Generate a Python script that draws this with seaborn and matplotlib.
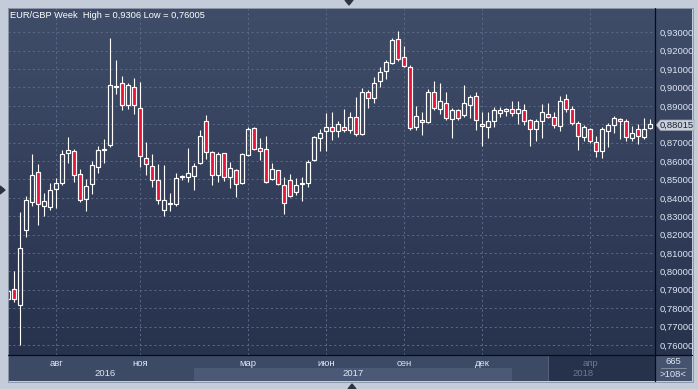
import numpy as np
import matplotlib
matplotlib.use("Agg")
import matplotlib.pyplot as plt
import seaborn as sns
from matplotlib.patches import Rectangle, Polygon

# ---------------- data (weekly EUR/GBP candles) ----------------
opens = [0.7850, 0.7904, 0.7815, 0.8225, 0.8378, 0.8542, 0.8355, 0.8351, 0.8449, 0.8480,
         0.8644, 0.8656, 0.8531, 0.8393, 0.8476, 0.8569, 0.8660, 0.8687, 0.9002, 0.9022,
         0.8907, 0.9005, 0.8891, 0.8618, 0.8575, 0.8498, 0.8335, 0.8369, 0.8364, 0.8513,
         0.8513, 0.8518, 0.8591, 0.8818, 0.8649, 0.8524, 0.8642, 0.8513, 0.8551, 0.8480,
         0.8633, 0.8780, 0.8671, 0.8665, 0.8500, 0.8551, 0.8469, 0.8496, 0.8429, 0.8474,
         0.8480, 0.8605, 0.8725, 0.8762, 0.8785, 0.8765, 0.8787, 0.8771, 0.8842, 0.8747,
         0.8973, 0.8942, 0.9033, 0.9087, 0.9131, 0.9262, 0.9164, 0.9109, 0.8787, 0.8824,
         0.8813, 0.8973, 0.8885, 0.8918, 0.8831, 0.8875, 0.8849, 0.8902, 0.8951, 0.8804,
         0.8787, 0.8815, 0.8860, 0.8871, 0.8885, 0.8862, 0.8880, 0.8825, 0.8776, 0.8820,
         0.8858, 0.8842, 0.8793, 0.8940, 0.8885, 0.8809, 0.8733, 0.8776, 0.8705, 0.8656,
         0.8765, 0.8798, 0.8831, 0.8815, 0.8725, 0.8776, 0.8733, 0.8782]
highs = [0.7910, 0.8000, 0.8322, 0.8409, 0.8636, 0.8582, 0.8427, 0.8482, 0.8509, 0.8658,
         0.8731, 0.8664, 0.8555, 0.8500, 0.8600, 0.8680, 0.8718, 0.9269, 0.9149, 0.9062,
         0.9027, 0.9051, 0.9029, 0.8705, 0.8640, 0.8582, 0.8578, 0.8425, 0.8535, 0.8524,
         0.8671, 0.8591, 0.8771, 0.8853, 0.8652, 0.8649, 0.8645, 0.8593, 0.8556, 0.8644,
         0.8784, 0.8787, 0.8727, 0.8736, 0.8591, 0.8553, 0.8515, 0.8529, 0.8509, 0.8511,
         0.8604, 0.8735, 0.8775, 0.8862, 0.8864, 0.8818, 0.8882, 0.8864, 0.8947, 0.8996,
         0.8985, 0.9058, 0.9113, 0.9149, 0.9267, 0.9306, 0.9225, 0.9124, 0.8900, 0.8867,
         0.8993, 0.9033, 0.9022, 0.8973, 0.8891, 0.8885, 0.9011, 0.8958, 0.8978, 0.8864,
         0.8864, 0.8895, 0.8895, 0.8891, 0.8925, 0.8925, 0.8909, 0.8827, 0.8831, 0.8909,
         0.8918, 0.8867, 0.8953, 0.8967, 0.8898, 0.8815, 0.8796, 0.8782, 0.8738, 0.8787,
         0.8809, 0.8844, 0.8836, 0.8831, 0.8793, 0.8804, 0.8836, 0.8831]
lows = [0.7840, 0.7836, 0.76005, 0.8187, 0.8355, 0.8251, 0.8300, 0.8336, 0.8342, 0.8469,
        0.8587, 0.8485, 0.8376, 0.8331, 0.8420, 0.8535, 0.8587, 0.8676, 0.8965, 0.8880,
        0.8885, 0.8858, 0.8569, 0.8524, 0.8458, 0.8367, 0.8300, 0.8331, 0.8356, 0.8496,
        0.8484, 0.8445, 0.8582, 0.8609, 0.8467, 0.8484, 0.8491, 0.8453, 0.8404, 0.8475,
        0.8627, 0.8660, 0.8605, 0.8478, 0.8496, 0.8467, 0.8311, 0.8404, 0.8413, 0.8380,
        0.8458, 0.8598, 0.8655, 0.8655, 0.8715, 0.8731, 0.8758, 0.8755, 0.8735, 0.8742,
        0.8891, 0.8916, 0.9004, 0.9047, 0.9125, 0.9144, 0.9109, 0.8769, 0.8767, 0.8744,
        0.8805, 0.8875, 0.8855, 0.8822, 0.8725, 0.8822, 0.8838, 0.8836, 0.8771, 0.8682,
        0.8727, 0.8785, 0.8840, 0.8847, 0.8844, 0.8802, 0.8795, 0.8684, 0.8709, 0.8727,
        0.8835, 0.8782, 0.8764, 0.8867, 0.8798, 0.8660, 0.8709, 0.8700, 0.8624, 0.8616,
        0.8678, 0.8755, 0.8722, 0.8709, 0.8711, 0.8695, 0.8722, 0.8776]
closes = [0.7895, 0.7849, 0.8127, 0.8387, 0.8525, 0.8369, 0.8380, 0.8444, 0.8482, 0.8640,
          0.8662, 0.8524, 0.8387, 0.8465, 0.8580, 0.8662, 0.8664, 0.9011, 0.9006, 0.8902,
          0.9016, 0.8902, 0.8629, 0.8582, 0.8498, 0.8389, 0.8389, 0.8373, 0.8507, 0.8517,
          0.8535, 0.8575, 0.8736, 0.8649, 0.8524, 0.8640, 0.8513, 0.8564, 0.8475, 0.8638,
          0.8776, 0.8665, 0.8656, 0.8485, 0.8555, 0.8475, 0.8371, 0.8409, 0.8469, 0.8478,
          0.8595, 0.8731, 0.8753, 0.8787, 0.8762, 0.8800, 0.8771, 0.8842, 0.8747, 0.8973,
          0.8945, 0.9027, 0.9082, 0.9136, 0.9256, 0.9155, 0.9115, 0.8782, 0.8847, 0.8813,
          0.8978, 0.8891, 0.8929, 0.8836, 0.8875, 0.8836, 0.8918, 0.8947, 0.8825, 0.8789,
          0.8815, 0.8876, 0.8875, 0.8882, 0.8862, 0.8885, 0.8815, 0.8776, 0.8820, 0.8864,
          0.8842, 0.8798, 0.8924, 0.8885, 0.8809, 0.8738, 0.8787, 0.8711, 0.8656, 0.8776,
          0.8798, 0.8836, 0.8815, 0.8733, 0.8755, 0.8738, 0.8776, 0.88015]

month_pos = [8, 22, 40, 53, 66, 79, 97]
month_labels = ["авг", "ноя", "мар", "июн", "сен", "дек", "апр"]
year_pos = [16.2, 57.5, 95.8]
year_labels = ["2016", "2017", "2018"]
price_ticks = [0.76, 0.77, 0.78, 0.79, 0.80, 0.81, 0.82, 0.83, 0.84, 0.85,
               0.86, 0.87, 0.88, 0.89, 0.90, 0.91, 0.92, 0.93]
last_price = closes[-1]
title = "EUR/GBP Week  High = 0,9306 Low = 0,76005"
counter_top = "665"
counter_bottom = ">108<"

# ---------------- style ----------------
sns.set_theme(style="dark")
plt.rcParams['font.family'] = ['Liberation Sans', 'DejaVu Sans']

W, H = 698, 389
fig = plt.figure(figsize=(W / 100, H / 100), dpi=100)
fig.patch.set_facecolor('#c3ccd8')


def rect(l, t, r, b):
    return [l / W, 1 - b / H, (r - l) / W, (b - t) / H]


FS = 6.8
TXT = '#dde6f3'
RED = '#e8143c'

# background layer (pixel coords)
under = fig.add_axes([0, 0, 1, 1], zorder=0)
under.set_facecolor('none')
under.axis('off')
grad = np.linspace(0, 1, 256)[:, None, None]
top = np.array([64, 77, 105]) / 255
bot = np.array([39, 50, 77]) / 255
img = top + (bot - top) * grad
under.imshow(img, extent=[8, 692, 355, 8], aspect='auto', interpolation='bilinear')
under.add_patch(Rectangle((8, 355), 647, 26, color='#3d4a66', lw=0))
under.add_patch(Rectangle((655, 355), 37, 26, color='#46536e', lw=0))
under.set_xlim(0, W)
under.set_ylim(H, 0)

# ---------------- main candle axes ----------------
ax = fig.add_axes(rect(8, 8, 655, 355), zorder=2)
ax.set_facecolor('none')
n = len(opens)
xs = np.arange(n)
o = np.array(opens); h = np.array(highs); l = np.array(lows); c = np.array(closes)
up = c >= o
body_top = np.maximum(o, c)
body_bot = np.minimum(o, c)
body_h = np.maximum(body_top - body_bot, 0.00012)

ax.vlines(xs, body_top, h, color='white', lw=0.8, zorder=3)
ax.vlines(xs, l, body_bot, color='white', lw=0.8, zorder=3)
ax.bar(xs[up], body_h[up], bottom=body_bot[up], width=0.72,
       facecolor='none', edgecolor='white', linewidth=0.85, zorder=4)
ax.bar(xs[~up], body_h[~up], bottom=body_bot[~up], width=0.72,
       facecolor=RED, edgecolor='white', linewidth=0.85, zorder=4)

ax.set_xlim(0, 107.83)
ax.set_ylim(0.75453, 0.94321)
ax.set_xticks(month_pos)
ax.set_xticklabels([])
ax.set_yticks(price_ticks)
ax.set_yticklabels([f"{v:.5f}".replace('.', ',') for v in price_ticks])
ax.yaxis.tick_right()
ax.tick_params(axis='y', length=0, pad=3, labelsize=FS, labelcolor=TXT)
ax.tick_params(axis='x', length=0, labelbottom=False)
ax.grid(True, color='#5a6987', linestyle=(0, (2.2, 2.8)), linewidth=0.7)
ax.set_axisbelow(True)
for s in ax.spines.values():
    s.set_visible(False)

# ---------------- time strip ----------------
sax = fig.add_axes(rect(8, 355, 655, 381), zorder=2)
sax.set_facecolor('none')
sax.set_xlim(ax.get_xlim())
sax.set_ylim(26, 0)
sax.axis('off')
sax.add_patch(Rectangle((31, 13), 53, 13, color='#4b5976', lw=0))
sax.add_patch(Rectangle((90, 0), 17.83, 26, color='#26314b', lw=0))
sax.axvline(90, color='#56627c', lw=0.7)
for p, lab in zip(month_pos, month_labels):
    col = '#6e7990' if p >= 90 else TXT
    sax.text(p, 8, lab, ha='center', va='center', fontsize=FS, color=col)
for p, lab in zip(year_pos, year_labels):
    col = '#6e7990' if p >= 90 else TXT
    sax.text(p, 18.8, lab, ha='center', va='center', fontsize=FS, color=col)

# ---------------- overlay UI ----------------
over = fig.add_axes([0, 0, 1, 1], zorder=5)
over.set_facecolor('none')
over.axis('off')
over.set_xlim(0, W)
over.set_ylim(H, 0)
over.plot([655, 655], [8, 381], color='#0a0c10', lw=0.9)
over.plot([8, 692], [354.5, 354.5], color='#0a0c10', lw=0.9)
over.add_patch(Rectangle((7.5, 7.5), 685, 374, fill=False, edgecolor='#8d97a8', lw=0.7))
over.text(10, 15, title, color='white', fontsize=6.7, va='center', ha='left')
# last price marker
over.add_patch(Polygon([(656, 125), (660.5, 120), (694, 120), (694, 130.5), (660.5, 130.5)],
                       closed=True, facecolor='#c9d0da', edgecolor='#9aa3b2', lw=0.5))
over.text(677, 125.3, f"{last_price:.5f}".replace('.', ','), ha='center', va='center',
          fontsize=FS, color='#1c2232')
# counter box
over.text(673.5, 362, counter_top, ha='center', va='center', fontsize=FS, color=TXT)
over.plot([661, 686], [368, 368], color='#8a94a8', lw=0.6)
over.text(673.5, 374.5, counter_bottom, ha='center', va='center', fontsize=FS, color=TXT)
# navigation triangles
tri = '#2d3340'
over.add_patch(Polygon([(345, 0), (353, 0), (349, 5)], closed=True, color=tri))
over.add_patch(Polygon([(0, 186), (0, 194), (5, 190)], closed=True, color=tri))
over.add_patch(Polygon([(348, 389), (356, 389), (352, 384)], closed=True, color=tri))

fig.savefig("out.png", dpi=100, facecolor=fig.get_facecolor())
